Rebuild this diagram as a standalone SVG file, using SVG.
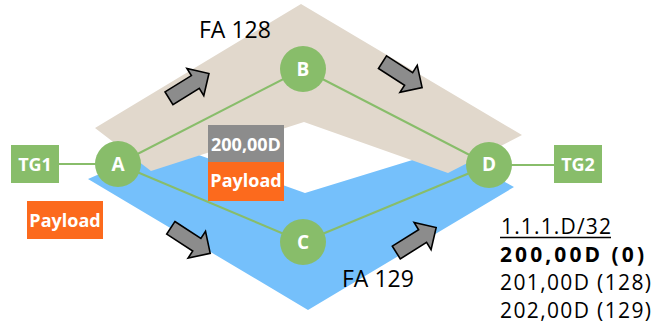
<svg xmlns="http://www.w3.org/2000/svg" xmlns:xlink="http://www.w3.org/1999/xlink" width="655" height="328" viewBox="0 0 655 328">
<style>
.lbl{font-family:"Open Sans","Noto Sans","DejaVu Sans",sans-serif;font-weight:bold;fill:#ffffff;text-anchor:middle}
.txt{font-family:"Open Sans","Noto Sans","DejaVu Sans",sans-serif;fill:#000000}
.node{fill:#88BD6A}
.link{stroke:#88BD6A;stroke-width:2;fill:none}
.arr{fill:#8C8C8C;stroke:#000000;stroke-width:1.6;stroke-linejoin:miter}
</style>
<defs>
<path id="barrow" d="M0,-7.5 L31,-7.5 L31,-16 L47,0 L31,16 L31,7.5 L0,7.5 Z"/>
</defs>
<rect width="655" height="328" fill="#ffffff"/>
<g id="fa129">
<polygon points="88,179 168,144 305,193 445,150 514,187 308,310" fill="#75C0FB"/>
<text class="txt" x="342" y="287" font-size="23">FA 129</text>
</g>
<g id="fa128">
<polygon points="301,4 522,135 448,173 304,122 151,171 95,128" fill="#E1D8CC"/>
<text class="txt" x="199" y="38" font-size="23">FA 128</text>
</g>
<g id="connectors">
<line class="link" x1="59" y1="164" x2="118" y2="164"/>
<line class="link" x1="118" y1="164" x2="303" y2="69"/>
<line class="link" x1="118" y1="164" x2="303" y2="242"/>
<line class="link" x1="303" y1="69" x2="489" y2="165"/>
<line class="link" x1="303" y1="242" x2="489" y2="165"/>
<line class="link" x1="489" y1="165" x2="554" y2="165"/>
</g>
<g id="arrows">
<use xlink:href="#barrow" class="arr" transform="translate(169,98.3) rotate(-31.8)"/>
<use xlink:href="#barrow" class="arr" transform="translate(382.5,62.2) rotate(32.6)"/>
<use xlink:href="#barrow" class="arr" transform="translate(170.8,227.8) rotate(33)"/>
<use xlink:href="#barrow" class="arr" transform="translate(396.3,252.5) rotate(-32)"/>
</g>
<g id="TG1">
<rect x="11" y="145" width="48" height="38" class="node"/>
<text class="lbl" x="35" y="171" font-size="18">TG1</text>
</g>
<g id="TG2">
<rect x="554" y="145" width="48" height="38" class="node"/>
<text class="lbl" x="578" y="171" font-size="18">TG2</text>
</g>
<g id="A">
<circle cx="118" cy="164" r="23" class="node"/>
<text class="lbl" x="118" y="171" font-size="19">A</text>
</g>
<g id="B">
<circle cx="303" cy="69" r="23" class="node"/>
<text class="lbl" x="303" y="76" font-size="19">B</text>
</g>
<g id="C">
<circle cx="303" cy="242" r="23" class="node"/>
<text class="lbl" x="303" y="249" font-size="19">C</text>
</g>
<g id="D">
<circle cx="489" cy="165" r="23" class="node"/>
<text class="lbl" x="489" y="171" font-size="19">D</text>
</g>
<g id="payload-left">
<rect x="27" y="201" width="76" height="38" fill="#FC6A1D"/>
<text class="lbl" x="65" y="227" font-size="18">Payload</text>
</g>
<g id="packet">
<rect x="208" y="125" width="76" height="37" fill="#8C8C8C"/>
<text class="lbl" x="246" y="151" font-size="18">200,00D</text>
<rect x="208" y="162" width="76" height="39" fill="#FC6A1D"/>
<text class="lbl" x="246" y="187" font-size="18">Payload</text>
</g>
<g id="table">
<text class="txt" x="501" y="234" font-size="21" textLength="110" lengthAdjust="spacing">1.1.1.D/32</text>
<line x1="500" y1="237.5" x2="611" y2="237.5" stroke="#000" stroke-width="1.3"/>
<text class="txt" x="500" y="262" font-size="21" font-weight="bold" textLength="144" lengthAdjust="spacing">200,00D (0)</text>
<text class="txt" x="500" y="290" font-size="21" textLength="151" lengthAdjust="spacing">201,00D (128)</text>
<text class="txt" x="500" y="318" font-size="21" textLength="151" lengthAdjust="spacing">202,00D (129)</text>
</g>
</svg>
